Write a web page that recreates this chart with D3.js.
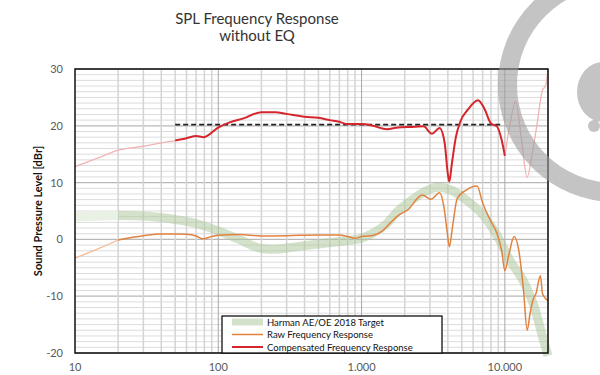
<!DOCTYPE html>
<html>
<head>
<meta charset="utf-8">
<script src="https://cdn.jsdelivr.net/npm/d3@7"></script>
<style>
  body { margin: 0; background: #fff; }
  svg { display: block; font-family: Lato, "Liberation Sans", sans-serif; }
</style>
</head>
<body>
<div id="chart"></div>
<script>
var margin = {top: 69, right: 52, bottom: 22, left: 75},
    width = 600 - margin.left - margin.right,
    height = 375 - margin.top - margin.bottom;

// Harman AE/OE 2018 target
var targetFreq = [10, 20, 30, 50, 70, 100, 140, 200, 250, 300, 500, 800, 1000, 1200, 1500, 1780, 2100, 2750, 3400, 4200, 5400, 7200, 8900, 10800, 13700, 16300, 18300, 20000];
var targetLevel = [4.0, 4.2, 4.1, 3.5, 2.8, 1.5, 0.0, -1.6, -1.75, -1.5, -0.8, -0.2, 0.2, 1.1, 2.8, 4.9, 6.4, 8.4, 9.2, 8.7, 6.9, 4.0, 0.5, -3.6, -7.7, -12.4, -17.1, -20.5];

// raw frequency response
var rawFreq = [10, 15, 20, 30, 40, 50, 60, 70, 78, 90, 100, 142, 200, 300, 500, 700, 800, 900, 1000, 1200, 1400, 1600, 1800, 2100, 2650, 3050, 3500, 3750, 3950, 4100, 4300, 4650, 5300, 6400, 7000, 7900, 8800, 9500, 10000, 10700, 11600, 12500, 13500, 14300, 15000, 15700, 16500, 17700, 18300, 19200, 20000];
var rawLevel = [-3.3, -1.5, -0.1, 0.65, 0.95, 0.95, 0.9, 0.6, 0.1, 0.5, 0.75, 0.85, 0.6, 0.65, 0.78, 0.78, 0.5, 0.2, 0.5, 0.7, 1.5, 3.0, 4.2, 5.2, 7.8, 7.06, 8.2, 5.8, 1.5, -1.3, 2.0, 7.2, 8.6, 9.4, 6.4, 3.4, 1.07, -2.0, -5.5, -2.5, 0.5, -1.9, -9.0, -16.0, -13.0, -10.7, -9.5, -6.4, -9.5, -10.4, -10.8];

// compensated frequency response
var compFreq = [10, 15, 20, 30, 40, 50, 60, 70, 79, 100, 120, 150, 200, 250, 300, 400, 500, 600, 700, 800, 1000, 1200, 1500, 1800, 2200, 2700, 3100, 3500, 3800, 4000, 4100, 4250, 4550, 4900, 5500, 6500, 7200, 8000, 8800, 9500, 10000, 10900, 11900, 13000, 14300, 15500, 16800, 18300, 19200, 20000];
var compLevel = [12.8, 14.5, 15.7, 16.4, 17.0, 17.4, 17.8, 18.2, 18.0, 19.7, 20.6, 21.3, 22.4, 22.4, 22.1, 21.6, 21.4, 21.0, 20.7, 20.3, 20.3, 20.0, 19.4, 19.7, 19.8, 19.9, 18.6, 19.6, 17.0, 11.5, 10.2, 13.0, 18.0, 20.8, 22.8, 24.5, 23.0, 20.4, 19.9, 17.5, 14.7, 20.5, 24.3, 18.0, 10.9, 15.0, 20.4, 26.3, 27.0, 29.8];

// reference level (dashed)
var refFreq = [50, 9600];
var refLevel = 20.2;

var xTicks = [10, 100, 1000, 10000];
var xTickLabels = ["10", "100", "1.000", "10.000"];
var yTicks = [-20, -10, 0, 10, 20, 30];
var legendLabels = ["Harman AE/OE 2018 Target", "Raw Frequency Response", "Compensated Frequency Response"];

var svg = d3.select("#chart").append("svg")
    .attr("width", 600)
    .attr("height", 375);

var g = svg.append("g")
    .attr("transform", "translate(" + margin.left + "," + margin.top + ")");

var x = d3.scaleLog()
    .domain([10, 20000])
    .range([0, width]);

var y = d3.scaleLinear()
    .domain([-20, 30])
    .range([height, 0]);

// grid
var minorX = [];
[10, 100, 1000, 10000].forEach(function(dec) {
  for (var k = 2; k <= 9; k++) if (dec * k <= 20000) minorX.push(dec * k);
});

g.selectAll(".hgrid")
    .data(d3.range(-20, 31, 1))
  .enter().append("line")
    .attr("x1", 0).attr("x2", width)
    .attr("y1", function(d) { return y(d); })
    .attr("y2", function(d) { return y(d); })
    .attr("stroke", function(d) { return d % 10 === 0 ? "#b8b8b8" : "#dcdcdc"; })
    .attr("stroke-width", function(d) { return d % 10 === 0 ? 1.3 : 1; });

g.selectAll(".vgrid")
    .data(minorX)
  .enter().append("line")
    .attr("y1", 0).attr("y2", height)
    .attr("x1", function(d) { return x(d); })
    .attr("x2", function(d) { return x(d); })
    .attr("stroke", "#d4d4d4")
    .attr("stroke-width", 1.5);

g.selectAll(".vmajor")
    .data([100, 1000, 10000])
  .enter().append("line")
    .attr("y1", 0).attr("y2", height)
    .attr("x1", function(d) { return x(d); })
    .attr("x2", function(d) { return x(d); })
    .attr("stroke", "#a8a8a8")
    .attr("stroke-width", 1);

var line = d3.line()
    .curve(d3.curveMonotoneX)
    .x(function(d) { return x(d[0]); })
    .y(function(d) { return y(d[1]); });

function part(freqs, levels, lo, hi) {
  return freqs.map(function(f, i) { return [f, levels[i]]; })
    .filter(function(d) { return d[0] >= lo && d[0] <= hi; });
}

var plot = g.append("g");

// target band
plot.append("path")
    .attr("d", line(part(targetFreq, targetLevel, 10, 20)))
    .attr("fill", "none")
    .attr("stroke", "#e9f0e4")
    .attr("stroke-width", 9);
plot.append("path")
    .attr("d", line(part(targetFreq, targetLevel, 20, 20000)))
    .attr("fill", "none")
    .attr("stroke", "#a9c69a")
    .attr("stroke-opacity", 0.5)
    .attr("stroke-width", 9);

// raw
plot.append("path")
    .attr("d", line(part(rawFreq, rawLevel, 10, 20)))
    .attr("fill", "none")
    .attr("stroke", "#f2bb95")
    .attr("stroke-width", 1.3);
plot.append("path")
    .attr("d", line(part(rawFreq, rawLevel, 20, 20000)))
    .attr("fill", "none")
    .attr("stroke", "#e2823f")
    .attr("stroke-width", 1.5);

// dashed reference
plot.append("line")
    .attr("x1", x(refFreq[0])).attr("x2", x(refFreq[1]))
    .attr("y1", y(refLevel)).attr("y2", y(refLevel))
    .attr("stroke", "#222")
    .attr("stroke-width", 1.6)
    .attr("stroke-dasharray", "5,3");

// compensated
plot.append("path")
    .attr("d", line(part(compFreq, compLevel, 10, 50)))
    .attr("fill", "none")
    .attr("stroke", "#f2b3b3")
    .attr("stroke-width", 1.3);
plot.append("path")
    .attr("d", line(part(compFreq, compLevel, 10000, 20000)))
    .attr("fill", "none")
    .attr("stroke", "#f2b3b3")
    .attr("stroke-width", 1.3);
plot.append("path")
    .attr("d", line(part(compFreq, compLevel, 50, 10000)))
    .attr("fill", "none")
    .attr("stroke", "#d4262c")
    .attr("stroke-width", 2);

// frame
g.append("rect")
    .attr("width", width)
    .attr("height", height)
    .attr("fill", "none")
    .attr("stroke", "#111")
    .attr("stroke-width", 1.5);

// ticks
g.selectAll(".ylab")
    .data(yTicks)
  .enter().append("text")
    .attr("x", -12)
    .attr("y", function(d) { return y(d) + 4; })
    .attr("text-anchor", "end")
    .attr("fill", "#595959")
    .style("font-size", "11px")
    .text(function(d) { return d; });

g.selectAll(".xlab")
    .data(xTicks)
  .enter().append("text")
    .attr("x", function(d) { return x(d); })
    .attr("y", height + 18)
    .attr("text-anchor", "middle")
    .attr("fill", "#595959")
    .style("font-size", "11px")
    .text(function(d, i) { return xTickLabels[i]; });

svg.append("text")
    .attr("transform", "translate(42," + (margin.top + height / 2) + ") rotate(-90)")
    .attr("text-anchor", "middle")
    .attr("fill", "#111")
    .style("font-size", "11px")
    .style("font-weight", "bold")
    .text("Sound Pressure Level [dBr]");

// title
svg.selectAll(".title")
    .data(["SPL Frequency Response", "without EQ"])
  .enter().append("text")
    .attr("x", 257)
    .attr("y", function(d, i) { return 24 + i * 17; })
    .attr("text-anchor", "middle")
    .attr("fill", "#333")
    .style("font-size", "15px")
    .text(function(d) { return d; });

// legend
var legend = svg.append("g")
    .attr("transform", "translate(222,316)");

legend.append("rect")
    .attr("width", 220)
    .attr("height", 37)
    .attr("fill", "#fff")
    .attr("stroke", "#111")
    .attr("stroke-width", 1.3);

var swatch = [
  {color: "#a9c69a", opacity: 0.5, w: 7},
  {color: "#e2823f", opacity: 1, w: 1.5},
  {color: "#d4262c", opacity: 1, w: 2}
];

legend.selectAll(".sw")
    .data(swatch)
  .enter().append("line")
    .attr("x1", 10).attr("x2", 41)
    .attr("y1", function(d, i) { return 6 + i * 12.5; })
    .attr("y2", function(d, i) { return 6 + i * 12.5; })
    .attr("stroke", function(d) { return d.color; })
    .attr("stroke-opacity", function(d) { return d.opacity; })
    .attr("stroke-width", function(d) { return d.w; });

legend.selectAll(".lt")
    .data(legendLabels)
  .enter().append("text")
    .attr("x", 45)
    .attr("y", function(d, i) { return 9.5 + i * 12.5; })
    .attr("fill", "#111")
    .style("font-size", "9.5px")
    .text(function(d) { return d; });

// watermark logo
var mark = svg.append("g")
    .attr("fill", "#9c9c9c")
    .attr("fill-opacity", 0.6);

mark.append("path")
    .attr("transform", "translate(615,85)")
    .attr("d", d3.arc()({innerRadius: 98, outerRadius: 117, startAngle: 0, endAngle: 2 * Math.PI}));

mark.append("ellipse")
    .attr("cx", 603).attr("cy", 92)
    .attr("rx", 26).attr("ry", 30);

mark.append("circle")
    .attr("cx", 594).attr("cy", 126)
    .attr("r", 6);
</script>
</body>
</html>
